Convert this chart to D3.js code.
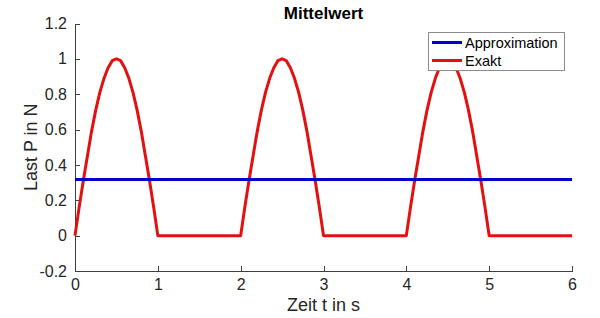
<!DOCTYPE html>
<html lang="de">
  <head>
    <meta charset="utf-8">
    <title>Mittelwert</title>
    <style>
      body {margin: 0; background: #fff;}
      svg {display: block; font-family: "Liberation Sans", Arial, sans-serif;}
      .axis path, .axis line {stroke: #404040; shape-rendering: crispEdges;}
      .axis text {font-size: 16px; fill: #262626; font-family: "Liberation Sans", Arial, sans-serif;}
      .series {fill: none; stroke-width: 3; stroke-linejoin: round;}
    </style>
    <script src="https://d3js.org/d3.v7.min.js"></script>
  </head>
  <body>
    <script>
      // values
      var xTicks = [0, 1, 2, 3, 4, 5, 6];
      var yTicks = [-0.2, 0, 0.2, 0.4, 0.6, 0.8, 1, 1.2];

      var exaktTime = [
        0, 0.05, 0.1, 0.15, 0.2, 0.25, 0.3, 0.35, 0.4, 0.45, 0.5,
        0.55, 0.6, 0.65, 0.7, 0.75, 0.8, 0.85, 0.9, 0.95, 1,
        2, 2.05, 2.1, 2.15, 2.2, 2.25, 2.3, 2.35, 2.4, 2.45, 2.5,
        2.55, 2.6, 2.65, 2.7, 2.75, 2.8, 2.85, 2.9, 2.95, 3,
        4, 4.05, 4.1, 4.15, 4.2, 4.25, 4.3, 4.35, 4.4, 4.45, 4.5,
        4.55, 4.6, 4.65, 4.7, 4.75, 4.8, 4.85, 4.9, 4.95, 5,
        6
      ];
      var exaktLast = [
        0, 0.16, 0.31, 0.45, 0.59, 0.71, 0.81, 0.89, 0.95, 0.99, 1,
        0.99, 0.95, 0.89, 0.81, 0.71, 0.59, 0.45, 0.31, 0.16, 0,
        0, 0.16, 0.31, 0.45, 0.59, 0.71, 0.81, 0.89, 0.95, 0.99, 1,
        0.99, 0.95, 0.89, 0.81, 0.71, 0.59, 0.45, 0.31, 0.16, 0,
        0, 0.16, 0.31, 0.45, 0.59, 0.71, 0.81, 0.89, 0.95, 0.99, 1,
        0.99, 0.95, 0.89, 0.81, 0.71, 0.59, 0.45, 0.31, 0.16, 0,
        0
      ];

      var approxTime = [0, 6];
      var approxLast = [0.318, 0.318];

      var width = 600, height = 318;
      var plotLeft = 75, plotRight = 572, plotTop = 23.5, plotBottom = 271;

      var svg = d3.select("body").append("svg")
        .attr("width", width)
        .attr("height", height);

      var x = d3.scaleLinear().domain([0, 6]).range([plotLeft, plotRight]);
      var y = d3.scaleLinear().domain([-0.2, 1.2]).range([plotBottom, plotTop]);

      // axes, ticks pointing inward
      svg.append("g")
        .attr("class", "axis")
        .attr("transform", "translate(0," + plotBottom + ")")
        .call(d3.axisBottom(x).tickValues(xTicks).tickSizeInner(-5).tickSizeOuter(0).tickPadding(8)
          .tickFormat(d3.format("d")));

      svg.append("g")
        .attr("class", "axis")
        .attr("transform", "translate(" + plotLeft + ",0)")
        .call(d3.axisLeft(y).tickValues(yTicks).tickSizeInner(-5).tickSizeOuter(0).tickPadding(8)
          .tickFormat(function(d) { return String(+d.toFixed(1)); }));

      // series
      var line = d3.line()
        .x(function(d) { return x(d[0]); })
        .y(function(d) { return y(d[1]); });

      svg.append("path")
        .attr("class", "series")
        .attr("stroke", "#e31010")
        .attr("d", line(d3.zip(exaktTime, exaktLast)));

      svg.append("path")
        .attr("class", "series")
        .attr("stroke", "#0000cc")
        .attr("d", line(d3.zip(approxTime, approxLast)));

      // title and labels
      svg.append("text")
        .attr("x", (plotLeft + plotRight) / 2)
        .attr("y", 19)
        .attr("text-anchor", "middle")
        .attr("font-size", 17)
        .attr("font-weight", "bold")
        .text("Mittelwert");

      svg.append("text")
        .attr("x", (plotLeft + plotRight) / 2)
        .attr("y", 311)
        .attr("text-anchor", "middle")
        .attr("font-size", 18)
        .attr("fill", "#262626")
        .text("Zeit t in s");

      svg.append("text")
        .attr("transform", "translate(37," + (plotTop + plotBottom) / 2 + ") rotate(-90)")
        .attr("text-anchor", "middle")
        .attr("font-size", 18)
        .attr("fill", "#262626")
        .text("Last P in N");

      // legend
      var legend = svg.append("g");
      legend.append("rect")
        .attr("x", 428.5).attr("y", 32.5)
        .attr("width", 136).attr("height", 38)
        .attr("fill", "#fff")
        .attr("stroke", "#8c8c8c");

      var legendItems = [["Approximation", "#0000cc"], ["Exakt", "#e31010"]];
      legend.selectAll("g.item")
        .data(legendItems)
        .enter().append("g")
        .attr("class", "item")
        .each(function(d, i) {
          var g = d3.select(this);
          var cy = 42.5 + i * 18;
          g.append("line")
            .attr("x1", 432).attr("x2", 462)
            .attr("y1", cy).attr("y2", cy)
            .attr("stroke", d[1]).attr("stroke-width", 3);
          g.append("text")
            .attr("x", 465).attr("y", cy + 5)
            .attr("font-size", 14.5)
            .attr("fill", "#000")
            .text(d[0]);
        });
    </script>
  </body>
</html>
